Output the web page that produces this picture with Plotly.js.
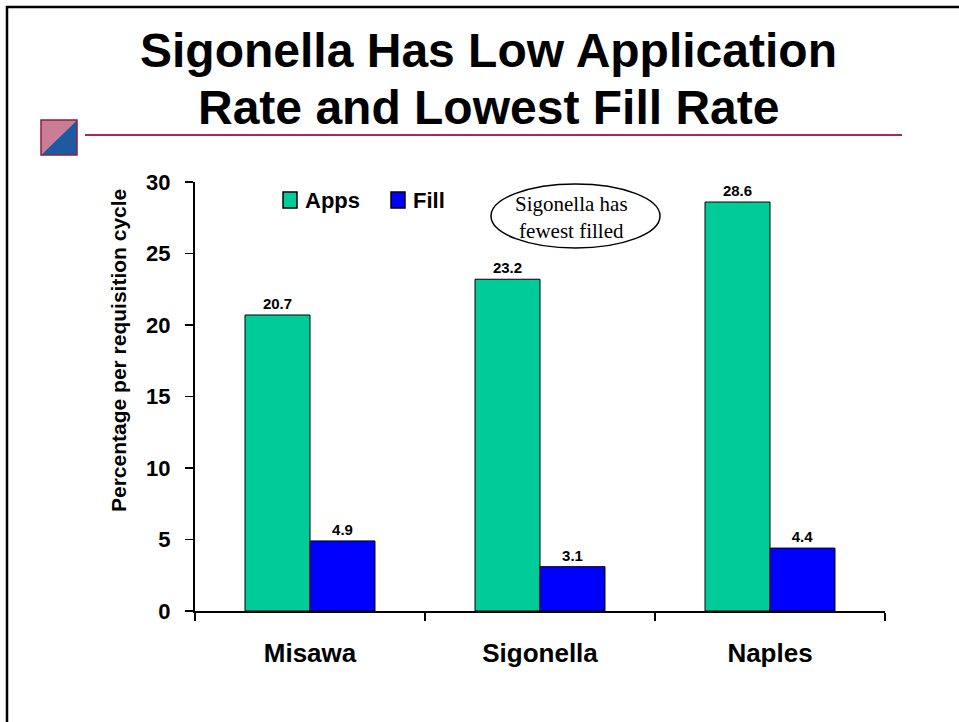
<!DOCTYPE html>
<html>
<head>
<meta charset="utf-8">
<script src="https://cdn.plot.ly/plotly-3.0.1.min.js"></script>
<style>html,body{margin:0;padding:0;background:#fff;}#chart{width:959px;height:722px;}</style>
</head>
<body>
<div id="chart"></div>
<script>
var categories = ["Misawa", "Sigonella", "Naples"];
var appsValues = [20.7, 23.2, 28.6];
var fillValues = [4.9, 3.1, 4.4];
var yTicks = [0, 5, 10, 15, 20, 25, 30];
var seriesNames = ["Apps", "Fill"];
var seriesColors = ["#00CC99", "#0000FF"];
var yAxisTitle = "Percentage per requisition cycle";

var L = 195, R = 885, T = 182, B = 611;
function px(x){ return (x - L) / (R - L); }
function py(y){ return (B - y) / (B - T); }

var font = "Liberation Sans, Arial, sans-serif";

var traces = [
  {
    type: "bar", name: seriesNames[0], x: categories, y: appsValues,
    marker: {color: seriesColors[0], line: {color: "#000", width: 1}},
    text: appsValues.map(function(v){return v.toFixed(1);}),
    textposition: "outside", cliponaxis: false,
    textfont: {family: font, size: 15, color: "#000", weight: "bold"}
  },
  {
    type: "bar", name: seriesNames[1], x: categories, y: fillValues,
    marker: {color: seriesColors[1], line: {color: "#000", width: 1}},
    text: fillValues.map(function(v){return v.toFixed(1);}),
    textposition: "outside", cliponaxis: false,
    textfont: {family: font, size: 15, color: "#000", weight: "bold"}
  }
];

var shapes = [
  {type: "rect", xref: "paper", yref: "paper", x0: px(7), x1: px(975), y0: py(740), y1: py(7),
   line: {color: "#000", width: 2.5}, fillcolor: "rgba(0,0,0,0)", layer: "below"},
  {type: "line", xref: "paper", yref: "paper", x0: px(85), x1: px(902), y0: py(135), y1: py(135),
   line: {color: "#A3285C", width: 2}},
  {type: "path", xref: "paper", yref: "paper",
   path: "M " + px(41) + "," + py(120) + " L " + px(77) + "," + py(120) + " L " + px(41) + "," + py(155) + " Z",
   fillcolor: "#CC7D96", line: {width: 0}},
  {type: "path", xref: "paper", yref: "paper",
   path: "M " + px(77) + "," + py(120) + " L " + px(77) + "," + py(155) + " L " + px(41) + "," + py(155) + " Z",
   fillcolor: "#1E5AA0", line: {width: 0}},
  {type: "rect", xref: "paper", yref: "paper", x0: px(41), x1: px(77), y0: py(155), y1: py(120),
   line: {color: "#8C1E46", width: 1.5}, fillcolor: "rgba(0,0,0,0)"},
  {type: "circle", xref: "paper", yref: "paper", x0: px(491), x1: px(660), y0: py(248), y1: py(184),
   line: {color: "#000", width: 1.5}, fillcolor: "#fff"}
];

var annotations = [
  {xref: "paper", yref: "paper", x: px(488), y: py(50), xanchor: "center", yanchor: "middle",
   text: "Sigonella Has Low Application", showarrow: false,
   font: {family: font, size: 48, color: "#000", weight: "bold"}},
  {xref: "paper", yref: "paper", x: px(488), y: py(107), xanchor: "center", yanchor: "middle",
   text: "Rate and Lowest Fill Rate", showarrow: false,
   font: {family: font, size: 48, color: "#000", weight: "bold"}},
  {xref: "paper", yref: "paper", x: px(571), y: py(217), xanchor: "center", yanchor: "middle",
   text: "Sigonella has<br>fewest filled", showarrow: false, align: "center",
   font: {family: "Liberation Serif, Times New Roman, serif", size: 21, color: "#000"}},
  {xref: "paper", yref: "paper", x: px(118), y: py(351), xanchor: "center", yanchor: "middle",
   text: yAxisTitle, textangle: -90, showarrow: false,
   font: {family: font, size: 21, color: "#000", weight: "bold"}}
];

// custom legend (built from series names / colours)
var legendX = [283, 391];
for (var i = 0; i < seriesNames.length; i++) {
  shapes.push({type: "rect", xref: "paper", yref: "paper",
    x0: px(legendX[i]), x1: px(legendX[i] + 14), y0: py(208), y1: py(192),
    fillcolor: seriesColors[i], line: {color: "#000", width: 1.5}});
  annotations.push({xref: "paper", yref: "paper", x: px(legendX[i] + 20), y: py(200),
    xanchor: "left", yanchor: "middle", text: seriesNames[i], showarrow: false,
    font: {family: font, size: 22, color: "#000", weight: "bold"}});
}

var layout = {
  width: 959, height: 722,
  margin: {l: L, r: 959 - R, t: T, b: 722 - B},
  paper_bgcolor: "#fff", plot_bgcolor: "#fff",
  barmode: "group", bargap: 0.435, bargroupgap: 0,
  showlegend: false,
  xaxis: {
    type: "category", tickson: "boundaries", ticks: "outside", ticklen: 8, tickwidth: 1.5, tickcolor: "#000",
    showline: true, linecolor: "#000", linewidth: 2, showgrid: false, zeroline: false,
    tickfont: {family: font, size: 26, color: "#000", weight: "bold"},
    ticklabelstandoff: 18
  },
  yaxis: {
    range: [0, 30], tickvals: yTicks, ticktext: yTicks.map(String),
    ticks: "outside", ticklen: 8, tickwidth: 1.5, tickcolor: "#000",
    showline: true, linecolor: "#000", linewidth: 2, showgrid: false, zeroline: false,
    tickfont: {family: font, size: 22, color: "#000", weight: "bold"},
    ticklabelstandoff: 10
  },
  shapes: shapes,
  annotations: annotations
};

Plotly.newPlot("chart", traces, layout, {displayModeBar: false, staticPlot: true});
</script>
</body>
</html>
